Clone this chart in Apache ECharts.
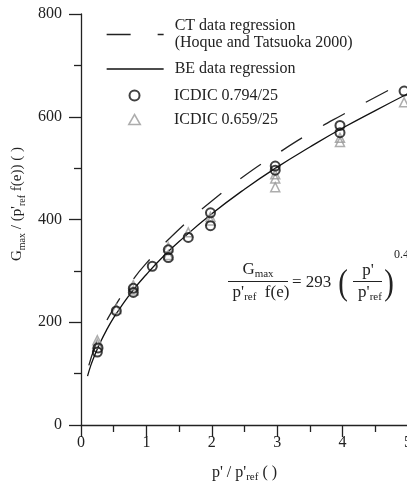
<!DOCTYPE html>
<html><head><meta charset="utf-8">
<script src="https://cdn.jsdelivr.net/npm/echarts@6/dist/echarts.min.js"></script>
<style>html,body{margin:0;padding:0;background:#fff}#c{width:407px;height:486px}</style>
</head><body><div id="c"></div>
<script>
// ---- data ----
const xTicks = [0, 1, 2, 3, 4, 5];
const yTicks = [0, 200, 400, 600, 800];

// CT data regression (Hoque and Tatsuoka 2000), dashed curve
const ctX = [0.12, 0.2, 0.3, 0.5, 0.75, 1, 1.5, 2, 2.5, 3, 3.5, 4, 4.5, 4.8];
const ctY = [116, 148, 179, 227, 275, 315, 381, 436, 485, 528, 568, 604, 638, 658];

// BE data regression, solid curve
const beX = [0.1, 0.15, 0.2, 0.3, 0.4, 0.5, 0.6, 0.8, 1, 1.25, 1.5, 2, 2.5, 3, 3.5, 4, 4.5, 5];
const beY = [95, 116, 133, 162, 187, 209, 228, 263, 293, 327, 357, 411, 459, 502, 541, 578, 612, 645];

// ICDIC 0.794/25 (circles)
const c794X = [0.25, 0.26, 0.54, 0.80, 0.80, 1.09, 1.335, 1.335, 1.64, 1.98, 1.98, 2.97, 2.97, 3.96, 3.96, 4.94];
const c794Y = [142, 150, 222, 258, 266, 309, 326, 341, 365, 388, 413, 496, 504, 569, 583, 650];

// ICDIC 0.659/25 (triangles)
const t659X = [0.25, 0.25, 0.54, 0.80, 0.80, 1.335, 1.335, 1.64, 1.98, 1.98, 2.97, 2.97, 2.97, 3.96, 3.96, 4.94];
const t659Y = [158, 165, 226, 262, 272, 331, 346, 375, 398, 405, 463, 480, 488, 551, 559, 628];

const zip = (a, b) => a.map((v, i) => [v, b[i]]);
const FF = 'Liberation Serif';
const INK = '#222';

const chart = echarts.init(document.getElementById('c'), null, {renderer: 'canvas'});

const sub = {fontSize: 11, fontFamily: FF, fill: INK, verticalAlign: 'bottom', lineHeight: 10};
const mainR = (fs) => ({fontSize: fs, fontFamily: FF, fill: INK, lineHeight: 20});
const hidden = {color: 'rgba(0,0,0,0)', borderWidth: 0, opacity: 0};

chart.setOption({
  animation: false,
  backgroundColor: '#fff',
  grid: {left: 81, top: 14, width: 327, height: 411, containLabel: false, outerBoundsMode: 'none'},
  xAxis: {
    type: 'value', min: xTicks[0], max: xTicks[xTicks.length - 1], interval: 1,
    axisLine: {onZero: false, lineStyle: {color: INK, width: 1.3}},
    axisTick: {length: 12, lineStyle: {color: INK, width: 1.3}},
    minorTick: {show: true, splitNumber: 2, length: 7, lineStyle: {color: INK, width: 1.3}},
    splitLine: {show: false},
    axisLabel: {margin: 10, fontFamily: FF, fontSize: 16, color: INK},
    name: "{m|p' / p'}{s|ref}{m| ( )}",
    nameLocation: 'middle', nameGap: 38,
    nameTextStyle: {
      rich: {
        m: {fontFamily: FF, fontSize: 16, color: INK, lineHeight: 20},
        s: {fontFamily: FF, fontSize: 11, color: INK, lineHeight: 10, verticalAlign: 'bottom'}
      }
    }
  },
  yAxis: {
    type: 'value', min: yTicks[0], max: yTicks[yTicks.length - 1], interval: 200,
    axisLine: {show: true, onZero: false, lineStyle: {color: INK, width: 1.3}},
    axisTick: {show: true, length: 12, lineStyle: {color: INK, width: 1.3}},
    minorTick: {show: true, splitNumber: 2, length: 7, lineStyle: {color: INK, width: 1.3}},
    splitLine: {show: false},
    axisLabel: {margin: 19, fontFamily: FF, fontSize: 16, color: INK}
  },
  legend: [
    {
      orient: 'vertical', left: 106, top: 17.5, padding: 0, itemWidth: 57, itemHeight: 14, itemGap: 9,
      selectedMode: false,
      data: [
        {name: 'CT data regression', itemStyle: hidden, lineStyle: {type: [24, 27], color: INK, width: 1.3}},
        {name: 'BE data regression', itemStyle: hidden, lineStyle: {color: '#111', width: 1.3}}
      ],
      formatter: n => n === 'CT data regression' ? n + '\n(Hoque and Tatsuoka 2000)' : n,
      textStyle: {fontFamily: FF, fontSize: 16, color: INK, lineHeight: 17, padding: [0, 0, 0, 6]}
    },
    {
      orient: 'vertical', left: 128, top: 87, padding: 0, itemWidth: 57, itemHeight: 10, itemGap: 7,
      selectedMode: false,
      data: [
        {name: 'ICDIC 0.794/25', icon: 'circle',
          itemStyle: {color: 'rgba(255,255,255,0)', borderColor: '#111', borderWidth: 2}},
        {name: 'ICDIC 0.659/25', icon: 'path://M5,0L10,8.66L0,8.66Z',
          itemStyle: {color: 'rgba(255,255,255,0)', borderColor: '#999', borderWidth: 1.5}}
      ],
      textStyle: {fontFamily: FF, fontSize: 16, color: INK, lineHeight: 17, padding: [0, 0, 0, 6]}
    }
  ],
  series: [
    {
      name: 'CT data regression', type: 'line', data: zip(ctX, ctY), smooth: true,
      symbol: 'none', z: 2, color: INK,
      lineStyle: {color: INK, width: 1.3, type: [25, 24]}
    },
    {
      name: 'BE data regression', type: 'line', data: zip(beX, beY), smooth: true,
      symbol: 'none', z: 2, color: '#111',
      lineStyle: {color: '#111', width: 1.3}
    },
    {
      name: 'ICDIC 0.659/25', type: 'scatter', data: zip(t659X, t659Y),
      symbol: 'triangle', symbolSize: 9, z: 3,
      itemStyle: {color: 'rgba(255,255,255,0)', borderColor: '#999', borderWidth: 1.5}
    },
    {
      name: 'ICDIC 0.794/25', type: 'scatter', data: zip(c794X, c794Y),
      symbol: 'circle', symbolSize: 9, z: 4,
      itemStyle: {color: 'rgba(255,255,255,0)', borderColor: '#111', borderWidth: 2}
    }
  ],
  graphic: [
    // y-axis title
    {type: 'text', x: 17, y: 261, rotation: Math.PI / 2,
      style: {text: "{m|G}{s|max}{m| / (p'}{s|ref}{m| f(e)) ( )}", align: 'left', verticalAlign: 'middle',
        rich: {m: mainR(15), s: {fontSize: 10, fontFamily: FF, fill: INK, verticalAlign: 'bottom', lineHeight: 10}}}},
    // formula: left fraction
    {type: 'text', x: 258, y: 270,
      style: {text: '{m|G}{s|max}', align: 'center', verticalAlign: 'middle', rich: {m: mainR(17), s: sub}}},
    {type: 'line', shape: {x1: 228, y1: 281.5, x2: 288, y2: 281.5}, style: {stroke: INK, lineWidth: 1}},
    {type: 'text', x: 261, y: 293,
      style: {text: "{m|p'}{s|ref}{m|  f(e)}", align: 'center', verticalAlign: 'middle', rich: {m: mainR(17), s: sub}}},
    {type: 'text', x: 292, y: 283,
      style: {text: '= 293', align: 'left', verticalAlign: 'middle', fontFamily: FF, fontSize: 17, fill: INK}},
    {type: 'text', x: 343, y: 285, scaleX: 0.8,
      style: {text: '(', align: 'center', verticalAlign: 'middle', fontFamily: FF, fontSize: 36, fill: INK}},
    {type: 'text', x: 368, y: 271,
      style: {text: "p'", align: 'center', verticalAlign: 'middle', fontFamily: FF, fontSize: 17, fill: INK}},
    {type: 'line', shape: {x1: 353, y1: 281.5, x2: 382, y2: 281.5}, style: {stroke: INK, lineWidth: 1}},
    {type: 'text', x: 370, y: 293,
      style: {text: "{m|p'}{s|ref}", align: 'center', verticalAlign: 'middle', rich: {m: mainR(17), s: sub}}},
    {type: 'text', x: 389, y: 285, scaleX: 0.8,
      style: {text: ')', align: 'center', verticalAlign: 'middle', fontFamily: FF, fontSize: 36, fill: INK}},
    {type: 'text', x: 394, y: 255,
      style: {text: '0.49', align: 'left', verticalAlign: 'middle', fontFamily: FF, fontSize: 12, fill: INK}}
  ]
});
</script>
</body></html>
